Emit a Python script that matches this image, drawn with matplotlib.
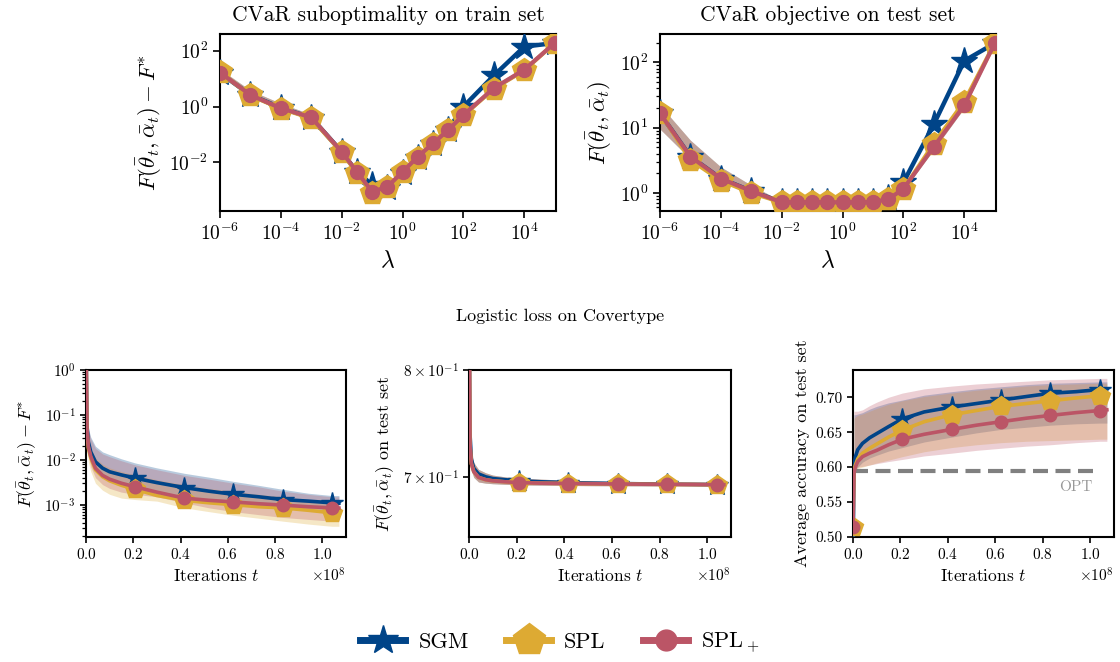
import numpy as np
import matplotlib
matplotlib.use("Agg")
import matplotlib.pyplot as plt
from matplotlib.lines import Line2D
from matplotlib.ticker import NullLocator, LogLocator, FixedLocator, FixedFormatter

plt.rcParams['font.family'] = ['cmr10']
plt.rcParams['mathtext.fontset'] = 'cm'
plt.rcParams['axes.formatter.use_mathtext'] = True
plt.rcParams['axes.unicode_minus'] = False

# ---------------- data ----------------
methods = ["SGM", "SPL", r"SPL$_+$"]
colors = ["#004488", "#DDAA33", "#BB5566"]
markers = ["*", "p", "o"]

lam_exp = [-6, -5, -4, -3, -2, -1.5, -1, -0.5, 0, 0.5, 1, 1.5, 2, 3, 4, 5]

# top-left: CVaR suboptimality on train set
tl_sgm = [16, 2.6, 0.9, 0.4, 0.024, 0.0045, 0.0016, 0.0012, 0.0042, 0.014, 0.045, 0.15, 1.0, 13, 140, 190]
tl_spl = [17, 2.5, 0.85, 0.38, 0.023, 0.0042, 0.0008, 0.0013, 0.0045, 0.015, 0.047, 0.14, 0.48, 4.4, 20, 190]
tl_splp = [16.6, 2.6, 0.87, 0.41, 0.024, 0.0046, 0.00089, 0.00134, 0.0046, 0.016, 0.048, 0.145, 0.5, 4.6, 21, 190]
tl_hi = [22, 3.8, 1.3, 0.52, 0.03, 0.006, 0.0016, 0.0017, 0.006, 0.02, 0.06, 0.18, 0.62, 5.6, 26, 205]
tl_lo = [14, 2.3, 0.8, 0.34, 0.02, 0.0038, 0.0008, 0.0011, 0.004, 0.013, 0.04, 0.12, 0.42, 4.0, 18, 175]

# top-right: CVaR objective on test set
tr_sgm = [16.5, 3.6, 1.66, 1.07, 0.72, 0.72, 0.72, 0.72, 0.72, 0.72, 0.73, 0.85, 1.45, 11.3, 105, 195]
tr_spl = [17, 3.2, 1.55, 1.0, 0.72, 0.72, 0.72, 0.72, 0.72, 0.72, 0.73, 0.8, 1.15, 5.7, 25, 195]
tr_splp = [16.5, 3.6, 1.66, 1.07, 0.72, 0.72, 0.72, 0.72, 0.72, 0.72, 0.73, 0.8, 1.16, 5.1, 22, 195]
tr_hi = [22, 6.4, 2.5, 1.31, 0.75, 0.74, 0.74, 0.74, 0.74, 0.74, 0.76, 0.86, 1.25, 5.8, 24, 205]
tr_lo = [9.5, 3.3, 1.6, 1.03, 0.71, 0.71, 0.71, 0.71, 0.71, 0.71, 0.72, 0.78, 1.1, 4.6, 20, 185]

# bottom: iterations (x 1e8)
t_iter = [0, 0.004, 0.01, 0.02, 0.04, 0.07, 0.1, 0.15, 0.208, 0.3, 0.416, 0.52, 0.624, 0.73, 0.832, 0.94, 1.04, 1.07]
mark_idx = [0, 8, 10, 12, 14, 16]

# bottom-left: suboptimality
bl_sgm = [5, 0.06, 0.025, 0.015, 0.009, 0.0065, 0.0054, 0.0046, 0.0039, 0.0031, 0.0024, 0.0020, 0.0017, 0.0015, 0.0013, 0.0012, 0.0011, 0.00108]
bl_spl = [5, 0.045, 0.018, 0.011, 0.006, 0.0042, 0.0034, 0.0027, 0.0022, 0.0016, 0.00125, 0.0011, 0.001, 0.0009, 0.00085, 0.00075, 0.00066, 0.00064]
bl_splp = [5, 0.05, 0.02, 0.012, 0.0065, 0.0045, 0.0037, 0.003, 0.0025, 0.0019, 0.0014, 0.00125, 0.00115, 0.00105, 0.00098, 0.0009, 0.00085, 0.00084]
bl_sgm_hi = [5, 0.1, 0.05, 0.032, 0.02, 0.015, 0.013, 0.0105, 0.0085, 0.0066, 0.005, 0.0041, 0.0033, 0.0027, 0.0022, 0.0018, 0.0016, 0.0016]
bl_sgm_lo = [5, 0.04, 0.016, 0.009, 0.0055, 0.004, 0.0034, 0.0028, 0.0024, 0.0019, 0.0015, 0.0013, 0.0011, 0.001, 0.0009, 0.00082, 0.00076, 0.00075]
bl_spl_hi = [5, 0.07, 0.03, 0.018, 0.011, 0.008, 0.0066, 0.0055, 0.0046, 0.0036, 0.0028, 0.0023, 0.002, 0.0017, 0.0015, 0.0013, 0.0012, 0.0012]
bl_spl_lo = [5, 0.025, 0.009, 0.0055, 0.003, 0.0021, 0.0017, 0.0014, 0.0013, 0.0012, 0.00085, 0.0007, 0.00058, 0.0005, 0.00043, 0.00037, 0.00033, 0.00033]
bl_splp_hi = [5, 0.095, 0.046, 0.029, 0.018, 0.0135, 0.0117, 0.0095, 0.0077, 0.006, 0.0045, 0.0037, 0.003, 0.0025, 0.002, 0.0017, 0.0015, 0.0015]
bl_splp_lo = [5, 0.03, 0.012, 0.007, 0.004, 0.0028, 0.0023, 0.0019, 0.0017, 0.0015, 0.0011, 0.00085, 0.0007, 0.0006, 0.00052, 0.00047, 0.00043, 0.00043]

# bottom-middle: objective on test set
bm_sgm = [0.9, 0.74, 0.716, 0.708, 0.703, 0.7005, 0.699, 0.698, 0.697, 0.6962, 0.6955, 0.695, 0.6947, 0.6944, 0.6942, 0.694, 0.6938, 0.6937]
bm_spl = [0.9, 0.73, 0.712, 0.705, 0.7, 0.698, 0.697, 0.6962, 0.6955, 0.695, 0.6947, 0.6945, 0.6943, 0.6941, 0.694, 0.6939, 0.6937, 0.6937]
bm_splp = [0.9, 0.73, 0.712, 0.705, 0.7, 0.698, 0.697, 0.6962, 0.6955, 0.695, 0.6947, 0.6945, 0.6943, 0.6941, 0.694, 0.6939, 0.6937, 0.6937]
bm_hi = [0.9, 0.75, 0.722, 0.713, 0.707, 0.704, 0.702, 0.7005, 0.6995, 0.6985, 0.6975, 0.697, 0.6965, 0.696, 0.6957, 0.6955, 0.6953, 0.6952]
bm_lo = [0.9, 0.72, 0.706, 0.7, 0.696, 0.695, 0.6945, 0.694, 0.6935, 0.6932, 0.693, 0.6928, 0.6927, 0.6926, 0.6925, 0.6924, 0.6923, 0.6923]

# bottom-right: accuracy on test set
br_sgm = [0.45, 0.60, 0.615, 0.625, 0.634, 0.642, 0.648, 0.658, 0.669, 0.679, 0.686, 0.691, 0.696, 0.701, 0.7057, 0.708, 0.711, 0.712]
br_spl = [0.514, 0.595, 0.603, 0.612, 0.62, 0.627, 0.633, 0.643, 0.653, 0.665, 0.675, 0.681, 0.687, 0.691, 0.695, 0.699, 0.702, 0.703]
br_splp = [0.514, 0.592, 0.600, 0.608, 0.615, 0.62, 0.624, 0.632, 0.640, 0.647, 0.654, 0.66, 0.665, 0.670, 0.674, 0.678, 0.681, 0.682]
br_sgm_hi = [0.45, 0.675, 0.675, 0.676, 0.678, 0.683, 0.687, 0.692, 0.696, 0.703, 0.708, 0.712, 0.715, 0.718, 0.72, 0.721, 0.722, 0.722]
br_sgm_lo = [0.45, 0.585, 0.595, 0.6, 0.607, 0.613, 0.617, 0.623, 0.628, 0.636, 0.643, 0.649, 0.654, 0.657, 0.66, 0.662, 0.663, 0.663]
br_spl_hi = [0.514, 0.67, 0.672, 0.674, 0.676, 0.68, 0.684, 0.69, 0.695, 0.701, 0.706, 0.71, 0.713, 0.716, 0.718, 0.719, 0.72, 0.72]
br_spl_lo = [0.514, 0.59, 0.595, 0.598, 0.6, 0.603, 0.606, 0.61, 0.615, 0.622, 0.628, 0.632, 0.635, 0.637, 0.638, 0.639, 0.64, 0.64]
br_splp_hi = [0.514, 0.68, 0.68, 0.68, 0.682, 0.688, 0.693, 0.7, 0.706, 0.712, 0.716, 0.719, 0.721, 0.723, 0.725, 0.726, 0.727, 0.727]
br_splp_lo = [0.514, 0.595, 0.598, 0.6, 0.601, 0.603, 0.605, 0.608, 0.611, 0.616, 0.62, 0.624, 0.627, 0.63, 0.632, 0.635, 0.637, 0.637]
opt_acc = 0.595

# ---------------- figure ----------------
fig = plt.figure(figsize=(11.2, 6.62), dpi=100)
W, H = 1120, 662

def add_ax(l, t, r, b):
    return fig.add_axes([l / W, 1 - b / H, (r - l) / W, (b - t) / H])

ax_tl = add_ax(220, 34, 556, 211)
ax_tr = add_ax(660, 34, 996, 211)
ax_bl = add_ax(86, 370, 346, 537)
ax_bm = add_ax(469, 370, 731, 537)
ax_br = add_ax(853, 370, 1114, 537)

lam = np.power(10.0, lam_exp)
top_ms = [20, 18, 10]
bot_ms = [16, 15, 9]
band_alpha = 0.28

def style_axes(ax, big):
    for s in ax.spines.values():
        s.set_linewidth(1.5)
    ax.tick_params(which='major', length=5 if big else 4, width=1.2,
                   labelsize=14 if big else 11, direction='out')
    ax.tick_params(which='minor', length=3, width=0.9, direction='out')

# top panels
for ax, series, hi, lo in [(ax_tl, [tl_sgm, tl_spl, tl_splp], tl_hi, tl_lo),
                           (ax_tr, [tr_sgm, tr_spl, tr_splp], tr_hi, tr_lo)]:
    ax.set_xscale('log')
    ax.set_yscale('log')
    for c in colors:
        ax.fill_between(lam, lo, hi, color=c, alpha=band_alpha, lw=0, zorder=1)
    for i, ys in enumerate(series):
        ax.plot(lam, ys, color=colors[i], marker=markers[i], ms=top_ms[i],
                lw=3.2 if i == 0 else 3, zorder=3 + i)
    ax.set_xlim(1e-6, 1.1e5)
    ax.set_xticks([1e-6, 1e-4, 1e-2, 1, 1e2, 1e4])
    ax.xaxis.set_minor_locator(NullLocator())
    ax.set_xlabel(r'$\lambda$', fontsize=17)
    style_axes(ax, True)

ax_tl.set_ylim(10 ** -3.74, 10 ** 2.6)
ax_tl.set_yticks([1e-2, 1, 1e2])
ax_tl.yaxis.set_minor_locator(NullLocator())
ax_tl.set_ylabel(r'$F(\bar{\theta}_t, \bar{\alpha}_t) - F^{*}$', fontsize=16.5)
ax_tl.set_title('CVaR suboptimality on train set', fontsize=15.5, pad=9)

ax_tr.set_ylim(0.53, 270)
ax_tr.set_yticks([1, 10, 100])
ax_tr.yaxis.set_minor_locator(LogLocator(base=10, subs=np.arange(2, 10)))
ax_tr.yaxis.set_minor_formatter(plt.NullFormatter())
ax_tr.set_ylabel(r'$F(\bar{\theta}_t, \bar{\alpha}_t)$', fontsize=16.5)
ax_tr.set_title('CVaR objective on test set', fontsize=15.5, pad=9)

# bottom panels
t = np.array(t_iter) * 1e8
bottom_sets = [
    (ax_bl, [bl_sgm, bl_spl, bl_splp], [(bl_sgm_lo, bl_sgm_hi), (bl_spl_lo, bl_spl_hi), (bl_splp_lo, bl_splp_hi)]),
    (ax_bm, [bm_sgm, bm_spl, bm_splp], [(bm_lo, bm_hi), (bm_lo, bm_hi), (bm_lo, bm_hi)]),
    (ax_br, [br_sgm, br_spl, br_splp], [(br_sgm_lo, br_sgm_hi), (br_spl_lo, br_spl_hi), (br_splp_lo, br_splp_hi)]),
]
for ax, series, bands in bottom_sets:
    for i, (lo, hi) in enumerate(bands):
        ax.fill_between(t[1:], lo[1:], hi[1:], color=colors[i], alpha=band_alpha, lw=0, zorder=1)
    for i, ys in enumerate(series):
        ax.plot(t, ys, color=colors[i], marker=markers[i], ms=bot_ms[i],
                markevery=mark_idx, lw=2.6, zorder=3 + i)
    ax.set_xlim(0, 1.1e8)
    ax.set_xticks(np.array([0, 0.2, 0.4, 0.6, 0.8, 1.0]) * 1e8)
    ax.set_xlabel(r'Iterations $t$', fontsize=12.5)
    style_axes(ax, False)
    ax.xaxis.get_offset_text().set_fontsize(11)

ax_bl.set_yscale('log')
ax_bl.set_ylim(10 ** -3.72, 1)
ax_bl.set_yticks([1e-3, 1e-2, 1e-1, 1])
ax_bl.set_ylabel(r'$F(\bar{\theta}_t, \bar{\alpha}_t) - F^{*}$', fontsize=13)

ax_bm.set_yscale('log')
ax_bm.set_ylim(0.65, 0.8)
ax_bm.yaxis.set_major_locator(FixedLocator([0.7, 0.8]))
ax_bm.yaxis.set_major_formatter(FixedFormatter([r'$7\times10^{-1}$', r'$8\times10^{-1}$']))
ax_bm.yaxis.set_minor_locator(NullLocator())
ax_bm.set_ylabel(r'$F(\bar{\theta}_t, \bar{\alpha}_t)$ on test set', fontsize=13)

ax_br.set_ylim(0.5, 0.739)
ax_br.set_yticks([0.50, 0.55, 0.60, 0.65, 0.70])
ax_br.set_yticklabels(['0.50', '0.55', '0.60', '0.65', '0.70'])
ax_br.hlines(opt_acc, 0, 1.02e8, colors='#808080', lw=3, linestyles=(0, (3.6, 1.8)), zorder=2)
ax_br.text(0.94e8, 0.572, 'OPT', color='#999999', fontsize=11, ha='center', va='center')
ax_br.set_ylabel('Average accuracy on test set', fontsize=13)

fig.text(0.5, 1 - 316 / H, 'Logistic loss on Covertype', ha='center', va='center', fontsize=13)

handles = [
    Line2D([], [], color=colors[0], marker='*', ms=22, lw=5),
    Line2D([], [], color=colors[1], marker='p', ms=24, lw=5),
    Line2D([], [], color=colors[2], marker='o', ms=15, lw=5),
]
fig.legend(handles, methods, loc='center', bbox_to_anchor=(0.5, 1 - 643 / H), ncol=3,
           frameon=False, fontsize=16, handlelength=2.0, handletextpad=0.6,
           columnspacing=1.7)

fig.savefig('out.png', dpi=100)
